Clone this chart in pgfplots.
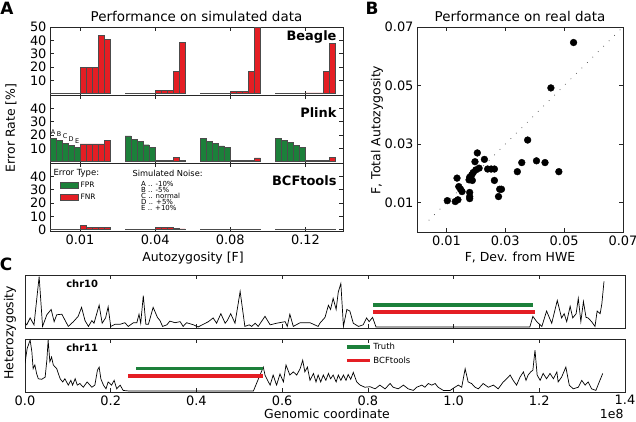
\documentclass[border=0pt]{standalone}
\usepackage{pgfplots}
\pgfplotsset{compat=1.18}
\usepackage{fontspec}
\setmainfont{DejaVu Sans}
\definecolor{fgreen}{RGB}{28,128,58}
\definecolor{fred}{RGB}{228,30,36}
\newcommand{\fs}[1]{\fontsize{#1}{#1}\selectfont}
\pgfplotsset{
  base/.style={
    scale only axis,
    anchor=north west,
    axis line style={line width=0.8bp, black!85},
    tick align=inside,
    major tick length=4bp,
    tick style={line width=0.6bp, black!85},
    tick label style={font=\fs{13}},
    /pgf/number format/assume math mode=true,
    scaled ticks=false,
  },
  barax/.style={
    base, width=293bp, height=68bp,
    xmin=-0.4, xmax=3.5, ymin=-1, ymax=50,
    xtick={0,1,2,3},
  },
  gbar/.style={ybar, bar width=0.08, bar shift=0pt, fill=fgreen, draw=black!70, line width=0.4bp},
  rbar/.style={ybar, bar width=0.08, bar shift=0pt, fill=fred, draw=black!70, line width=0.4bp},
  trace/.style={base, width=600bp, height=53bp, xmin=0, xmax=1.4, ymin=0, ymax=1,
    ytick=\empty, xtick={0,0.2,0.4,0.6,0.8,1.0,1.2,1.4}},
}
\begin{document}
\begin{tikzpicture}
\useasboundingbox (0,0) rectangle (636bp,-422bp);

% ---------------- Panel A ----------------
\begin{axis}[barax, at={(50bp,-27bp)}, xticklabels={}, ytick={10,20,30,40,50}]
\addplot[gbar] coordinates {(-0.36,0.4)(-0.28,0.4)(-0.20,0.4)(-0.12,0.4)(-0.04,0.4)
 (0.64,0.4)(0.72,0.4)(0.80,0.4)(0.88,0.4)(0.96,0.4)
 (1.64,0.4)(1.72,0.4)(1.80,0.4)(1.88,0.4)(1.96,0.4)
 (2.64,0.4)(2.72,0.4)(2.80,0.4)(2.88,0.4)(2.96,0.4)};
\addplot[rbar] coordinates {(0.04,20)(0.12,20)(0.20,20)(0.28,44)(0.36,40.5)
 (1.04,2.5)(1.12,2.5)(1.20,2.5)(1.28,17)(1.36,38.5)
 (2.04,2)(2.12,2)(2.20,2)(2.28,17)(2.36,50)
 (3.04,0.6)(3.12,0.6)(3.20,0.6)(3.28,17)(3.36,37.5)};
\end{axis}

\begin{axis}[barax, at={(50bp,-95bp)}, xticklabels={}, ytick={10,20,30,40}]
\addplot[gbar] coordinates {(-0.36,17.3)(-0.28,16)(-0.20,14)(-0.12,12)(-0.04,10.5)
 (0.64,19.3)(0.72,17)(0.80,15)(0.88,12.7)(0.96,11)
 (1.64,17.3)(1.72,15)(1.80,13.5)(1.88,11.8)(1.96,10.5)
 (2.64,17.3)(2.72,16)(2.80,14.3)(2.88,12.3)(2.96,11)};
\addplot[rbar] coordinates {(0.04,13.3)(0.12,13.3)(0.20,13.3)(0.28,13.3)(0.36,15.8)
 (1.04,0.8)(1.12,0.8)(1.20,0.8)(1.28,3.4)(1.36,1)
 (2.04,1.2)(2.12,1.2)(2.20,1.2)(2.28,1.2)(2.36,2.8)
 (3.04,1)(3.12,1)(3.20,1)(3.28,1)(3.36,3)};
\node[font=\fs{6.5}, anchor=south] at (axis cs:-0.36,17.8) {A};
\node[font=\fs{6.5}, anchor=south] at (axis cs:-0.28,16.5) {B};
\node[font=\fs{6.5}, anchor=south] at (axis cs:-0.20,14.5) {C};
\node[font=\fs{6.5}, anchor=south] at (axis cs:-0.12,12.5) {D};
\node[font=\fs{6.5}, anchor=south] at (axis cs:-0.04,11) {E};
\end{axis}

\begin{axis}[barax, at={(50bp,-163bp)}, xticklabels={0.01,0.04,0.08,0.12}, ytick={0,10,20,30,40},
  legend style={at={(axis description cs:0.034,0.75)}, anchor=north west, draw=none, fill=none,
    font=\fs{7.5}, row sep=1bp, inner sep=0pt},
  legend cell align=left,
  legend image code/.code={\draw[#1] (0bp,-3bp) rectangle (18bp,3bp);}]
\addplot[gbar] coordinates {(-0.36,0.4)(-0.28,0.4)(-0.20,0.4)(-0.12,0.4)(-0.04,0.4)
 (0.64,0.4)(0.72,0.4)(0.80,0.4)(0.88,0.4)(0.96,0.4)
 (1.64,0.4)(1.72,0.4)(1.80,0.4)(1.88,0.4)(1.96,0.4)
 (2.64,0.4)(2.72,0.4)(2.80,0.4)(2.88,0.4)(2.96,0.4)};
\addlegendentry{FPR}
\addplot[rbar] coordinates {(0.04,3)(0.12,1.6)(0.20,1.6)(0.28,1.6)(0.36,1.6)
 (1.04,2)(1.12,1.5)(1.20,1.5)(1.28,1)(1.36,0.6)
 (2.04,0.4)(2.12,0.4)(2.20,0.4)(2.28,0.4)(2.36,0.4)
 (3.04,0.4)(3.12,0.4)(3.20,0.4)(3.28,0.4)(3.36,0.4)};
\addlegendentry{FNR}
\end{axis}

% ---------------- Panel B ----------------
\begin{axis}[base, at={(417bp,-27bp)}, width=206bp, height=205bp,
  xmin=0, xmax=0.07, ymin=0, ymax=0.07,
  xtick={0.01,0.03,0.05,0.07}, ytick={0.01,0.03,0.05,0.07},
  xticklabel style={/pgf/number format/fixed, /pgf/number format/precision=2, /pgf/number format/fixed zerofill},
  yticklabel style={/pgf/number format/fixed, /pgf/number format/precision=2, /pgf/number format/fixed zerofill}]
\addplot[black!75, line width=0.7bp, dash pattern=on 0.7bp off 7bp] coordinates {(0.004,0.004) (0.07,0.07)};
\addplot[only marks, mark=*, mark size=3.4bp, black] coordinates {
(0.0532,0.0647)(0.0455,0.0492)(0.0376,0.0314)(0.0205,0.0270)(0.0197,0.0240)(0.0229,0.0248)
(0.0356,0.0237)(0.0406,0.0243)(0.0435,0.0237)(0.0482,0.0206)(0.0341,0.0206)(0.0240,0.0215)
(0.0252,0.0215)(0.0263,0.0215)(0.0211,0.0218)(0.0200,0.0212)(0.0191,0.0203)(0.0186,0.0195)
(0.0179,0.0187)(0.0177,0.0178)(0.0188,0.0176)(0.0263,0.0176)(0.0136,0.0184)(0.0142,0.0155)
(0.0148,0.0146)(0.0153,0.0138)(0.0179,0.0135)(0.0179,0.0121)(0.0179,0.0114)(0.0281,0.0146)
(0.0287,0.0146)(0.0277,0.0121)(0.0103,0.0107)(0.0130,0.0104)(0.0139,0.0110)};
\end{axis}

% ---------------- Panel C ----------------
\begin{axis}[trace, at={(25bp,-275bp)}, xticklabels={}]
\addplot[black, line width=0.7bp] coordinates {
(0.000,0.09)(0.004,0.06)(0.012,0.19)(0.021,0.06)(0.033,0.97)(0.041,0.03)(0.051,0.25)(0.061,0.35)
(0.068,0.12)(0.074,0.25)(0.086,0.26)(0.101,0.03)(0.113,0.12)(0.124,0.22)(0.132,0.39)(0.140,0.14)
(0.148,0.03)(0.156,0.14)(0.161,0.09)(0.173,0.43)(0.180,0.09)(0.188,0.19)(0.194,0.40)(0.200,0.03)
(0.210,0.07)(0.222,0.07)(0.233,0.10)(0.241,0.03)(0.253,0.10)(0.261,0.10)(0.266,0.26)(0.270,0.09)
(0.276,0.61)(0.282,0.07)(0.288,0.07)(0.299,0.39)(0.309,0.20)(0.315,0.14)(0.321,0.03)(0.331,0.06)
(0.338,0.13)(0.350,0.10)(0.362,0.12)(0.369,0.03)(0.377,0.10)(0.393,0.06)(0.404,0.02)(0.416,0.07)
(0.428,0.12)(0.439,0.19)(0.447,0.09)(0.457,0.27)(0.467,0.09)(0.472,0.14)(0.480,0.27)(0.490,0.09)
(0.502,0.69)(0.513,0.03)(0.523,0.06)(0.529,0.03)(0.537,0.09)(0.544,0.03)(0.560,0.22)(0.572,0.06)
(0.587,0.09)(0.607,0.12)(0.612,0.03)(0.618,0.26)(0.626,0.03)(0.642,0.10)(0.665,0.10)(0.684,0.03)
(0.688,0.09)(0.700,0.20)(0.708,0.43)(0.713,0.35)(0.719,0.56)(0.726,0.35)(0.731,0.68)(0.737,0.84)
(0.743,0.03)(0.751,0.35)(0.758,0.32)(0.766,0.09)(0.778,0.03)(0.789,0.06)(0.797,0.19)(0.803,0.12)
(0.811,0.20)(0.819,0.02)(1.178,0.02)(1.185,0.22)(1.194,0.12)(1.206,0.03)(1.217,0.32)(1.229,0.09)
(1.242,0.52)(1.252,0.19)(1.258,0.27)(1.264,0.12)(1.272,0.41)(1.278,0.19)(1.286,0.27)(1.291,0.56)
(1.297,0.12)(1.303,0.50)(1.309,0.20)(1.314,0.19)(1.322,0.12)(1.330,0.03)(1.335,0.32)(1.342,0.27)
(1.346,0.46)(1.351,0.88)};
\addplot[fgreen, line width=3.5bp] coordinates {(0.812,0.43)(1.185,0.43)};
\addplot[fred, line width=3.5bp] coordinates {(0.812,0.30)(1.190,0.30)};
\node[font=\bfseries\fs{10}, anchor=north west] at (axis description cs:0.063,0.97) {chr10};
\end{axis}

\begin{axis}[trace, at={(25bp,-339bp)},
  xticklabel style={/pgf/number format/fixed, /pgf/number format/precision=1, /pgf/number format/fixed zerofill},
  legend style={at={(axis description cs:0.533,0.97)}, anchor=north west, draw=none, fill=none,
    font=\fs{8.5}, row sep=2bp, inner sep=0pt},
  legend cell align=left,
  legend image code/.code={\draw[#1] (0bp,0bp) -- (23bp,0bp);}]
\addplot[black, line width=0.7bp, forget plot] coordinates {
(0.000,0.54)(0.005,0.82)(0.012,0.98)(0.016,0.76)(0.019,0.44)(0.023,0.51)(0.027,0.35)(0.031,0.25)
(0.039,0.24)(0.047,0.28)(0.051,0.60)(0.054,0.98)(0.058,0.57)(0.062,0.66)(0.066,0.51)(0.074,0.44)
(0.082,0.25)(0.088,0.19)(0.093,0.25)(0.101,0.13)(0.107,0.22)(0.111,0.13)(0.117,0.25)(0.122,0.13)
(0.128,0.16)(0.136,0.09)(0.145,0.19)(0.156,0.09)(0.163,0.13)(0.169,0.41)(0.173,0.47)(0.177,0.25)
(0.183,0.13)(0.189,0.06)(0.194,0.19)(0.202,0.13)(0.208,0.22)(0.214,0.06)(0.222,0.13)(0.229,0.03)
(0.241,0.02)(0.533,0.02)(0.556,0.47)(0.560,0.32)(0.568,0.19)(0.572,0.13)(0.579,0.32)(0.587,0.13)
(0.595,0.34)(0.603,0.19)(0.609,0.51)(0.618,0.32)(0.626,0.38)(0.634,0.32)(0.642,0.44)(0.648,0.60)
(0.653,0.38)(0.659,0.47)(0.665,0.22)(0.673,0.35)(0.679,0.19)(0.684,0.32)(0.690,0.19)(0.696,0.32)
(0.702,0.22)(0.708,0.35)(0.713,0.25)(0.719,0.32)(0.726,0.19)(0.731,0.32)(0.737,0.22)(0.743,0.32)
(0.749,0.22)(0.754,0.33)(0.760,0.24)(0.766,0.37)(0.774,0.19)(0.782,0.13)(0.793,0.09)(0.805,0.10)
(0.817,0.06)(0.828,0.13)(0.840,0.06)(0.852,0.16)(0.859,0.09)(0.871,0.06)(0.883,0.13)(0.894,0.06)
(0.906,0.03)(0.914,0.09)(0.926,0.13)(0.933,0.09)(0.941,0.16)(0.949,0.13)(0.957,0.16)(0.964,0.09)
(0.976,0.03)(0.992,0.03)(1.003,0.09)(1.011,0.13)(1.019,0.09)(1.027,0.44)(1.034,0.19)(1.042,0.16)
(1.050,0.09)(1.058,0.06)(1.069,0.16)(1.081,0.09)(1.093,0.13)(1.104,0.06)(1.116,0.19)(1.124,0.25)
(1.132,0.32)(1.139,0.22)(1.147,0.13)(1.155,0.28)(1.163,0.38)(1.169,0.22)(1.174,0.32)(1.180,0.38)
(1.185,0.41)(1.190,0.79)(1.195,0.32)(1.202,0.22)(1.209,0.35)(1.217,0.25)(1.225,0.35)(1.233,0.25)
(1.241,0.38)(1.244,0.19)(1.252,0.28)(1.262,0.47)(1.270,0.13)(1.279,0.06)(1.291,0.09)(1.299,0.22)
(1.307,0.13)(1.314,0.19)(1.322,0.06)(1.332,0.03)(1.340,0.19)(1.348,0.35)};
\addplot[fgreen, line width=3.5bp] coordinates {(0.259,0.44)(0.556,0.44)};
\addlegendentry{Truth}
\addplot[fred, line width=3.5bp] coordinates {(0.241,0.30)(0.556,0.30)};
\addlegendentry{BCFtools}
\node[font=\bfseries\fs{10}, anchor=north west] at (axis description cs:0.063,0.97) {chr11};
\end{axis}

% ---------------- Text ----------------
\node[font=\bfseries\fs{17}] at (7bp,-8bp) {A};
\node[font=\bfseries\fs{17}] at (372bp,-8bp) {B};
\node[font=\bfseries\fs{17}] at (6bp,-264bp) {C};
\node[font=\fs{13.5}] at (196.5bp,-16bp) {Performance on simulated data};
\node[font=\fs{13.5}] at (520bp,-16bp) {Performance on real data};
\node[font=\bfseries\fs{13}, anchor=east] at (340bp,-37bp) {Beagle};
\node[font=\bfseries\fs{13}, anchor=east] at (340bp,-113bp) {Plink};
\node[font=\bfseries\fs{13}, anchor=east] at (340bp,-181bp) {BCFtools};
\node[font=\fs{8.5}, anchor=west] at (50bp,-173bp) {Error Type:};
\node[font=\fs{8.3}, anchor=west] at (129bp,-173bp) {Simulated Noise:};
\node[font=\fs{7}, anchor=north west, align=left, inner sep=0pt] at (141bp,-181bp)
  {A .. -10\%\\[-0.9bp] B .. -5\%\\[-0.9bp] C .. normal\\[-0.9bp] D .. +5\%\\[-0.9bp] E .. +10\%};
\node[font=\fs{12.5}, rotate=90] at (11bp,-128bp) {Error Rate [\%]};
\node[font=\fs{12.5}] at (193bp,-258bp) {Autozygosity [F]};
\node[font=\fs{12.5}] at (520bp,-257bp) {F, Dev. from HWE};
\node[font=\fs{12.5}, rotate=90] at (377bp,-130bp) {F, Total Autozygosity};
\node[font=\fs{12.5}, rotate=90] at (10bp,-333bp) {Heterozygosity};
\node[font=\fs{12.5}] at (327bp,-414bp) {Genomic coordinate};
\node[font=\fs{12.5}, anchor=east] at (627bp,-414bp) {1e8};
\end{tikzpicture}
\end{document}
